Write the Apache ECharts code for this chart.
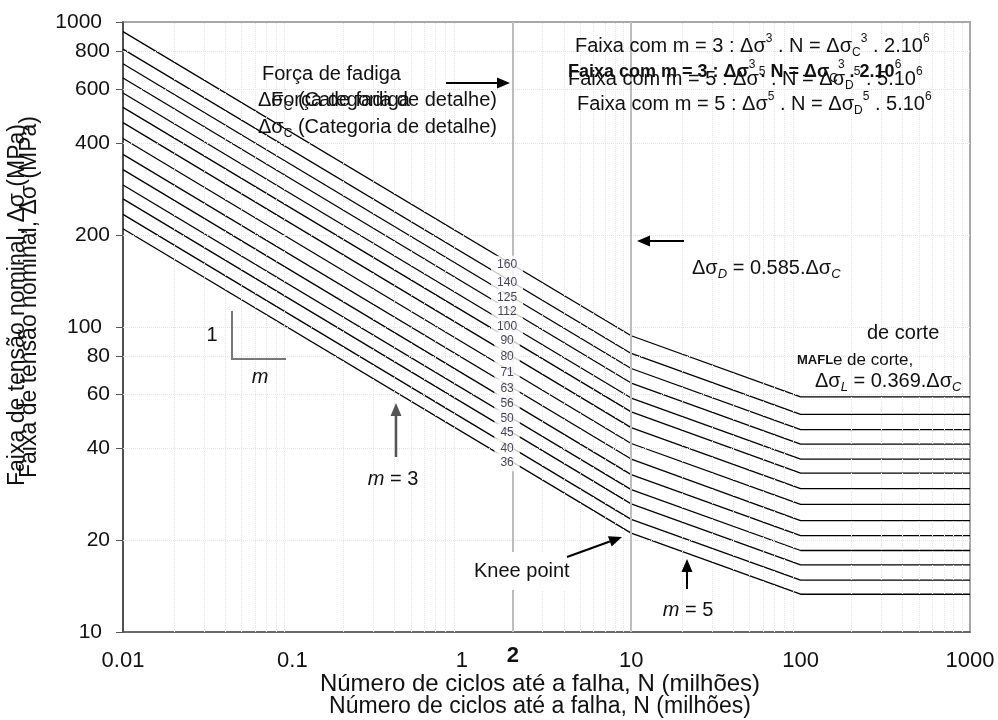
<!DOCTYPE html>
<html><head><meta charset="utf-8">
<script src="https://cdn.jsdelivr.net/npm/echarts@6/dist/echarts.min.js"></script>
<style>html,body{margin:0;padding:0;background:#fff}#c{width:998px;height:720px}</style>
</head><body><div id="c"></div>
<script>
// ---- data ----
const categories   = [160, 140, 125, 112, 100, 90, 80, 71, 63, 56, 50, 45, 40, 36];
const cycles       = [0.01, 10, 100, 1000];          // N (milhões) at the vertices of each curve
const startValues  = [930, 815, 730, 655, 585, 525, 468, 415, 368, 328, 292, 263, 234, 210]; // at N = 0.01
const kneeValues   = [93.6, 81.9, 73.1, 65.5, 58.5, 52.7, 46.8, 41.5, 36.9, 32.8, 29.3, 26.3, 23.4, 21.1]; // at N = 10
const cutoffValues = [59.0, 51.7, 46.1, 41.3, 36.9, 33.2, 29.5, 26.2, 23.2, 20.7, 18.5, 16.6, 14.8, 13.3]; // N = 100 .. 1000
const labelCycle   = 1.85;                            // N where category labels sit
const refLines     = [2, 10];
const xTicks = [0.01, 0.1, 1, 2, 10, 100, 1000];
const yTicks = [10, 20, 40, 60, 80, 100, 200, 400, 600, 800, 1000];
const minorX = [0.02,0.03,0.04,0.05,0.06,0.07,0.08,0.09, 0.2,0.3,0.4,0.5,0.6,0.7,0.8,0.9,
                3,4,5,6,7,8,9, 20,30,40,50,60,70,80,90, 200,300,400,500,600,700,800,900];

const FF = "'Liberation Sans', Arial, Helvetica, sans-serif";
const chart = echarts.init(document.getElementById('c'), null, {renderer: 'canvas'});

const curveSeries = categories.map((c, k) => {
  const vals = [startValues[k], kneeValues[k], cutoffValues[k], cutoffValues[k]];
  return {
    name: String(c), type: 'line', silent: true, z: 3,
    symbol: 'none', animation: false,
    lineStyle: {color: '#000', width: 1.3},
    data: cycles.map((n, i) => [n, vals[i]])
  };
});

const rich = {
  sup:  {fontSize: 12, lineHeight: 12, verticalAlign: 'top', fontFamily: FF, fill: '#111'},
  sub:  {fontSize: 12, lineHeight: 12, verticalAlign: 'bottom', fontFamily: FF, fill: '#111'},
  subi: {fontSize: 13, lineHeight: 12, verticalAlign: 'bottom', fontStyle: 'italic', fontFamily: FF, fill: '#111'},
  i:    {fontSize: 20, fontStyle: 'italic', fontFamily: FF, fill: '#111'}
};
function txt(x, y, text, opts) {
  opts = opts || {};
  return {
    type: 'text', x: x, y: y, z: opts.z || 100, rotation: opts.rotation || 0,
    style: Object.assign({
      text: text, fontSize: 20, fontFamily: FF, fill: '#111',
      align: 'left', verticalAlign: 'middle', lineHeight: 26, rich: rich
    }, opts.style || {})
  };
}
function arrow(x1, y1, x2, y2, color, w) {
  color = color || '#000'; w = w || 2;
  const ang = Math.atan2(y2 - y1, x2 - x1), L = 13, H = 5.5;
  const bx = x2 - L * Math.cos(ang), by = y2 - L * Math.sin(ang);
  const px = -Math.sin(ang) * H, py = Math.cos(ang) * H;
  return [
    {type: 'line', z: 100, shape: {x1: x1, y1: y1, x2: bx, y2: by}, style: {stroke: color, lineWidth: w}},
    {type: 'polygon', z: 100, shape: {points: [[x2, y2], [bx + px, by + py], [bx - px, by - py]]}, style: {fill: color}}
  ];
}

const graphics = [].concat(
  // y-axis title (two overlapping copies as in the reference)
  [txt(18, 305, 'Faixa de tensão nominal, Δσ (MPa)', {rotation: Math.PI / 2, style: {fontSize: 23, align: 'center'}}),
   txt(30, 297, 'Faixa de tensão nominal, Δσ (MPa)', {rotation: Math.PI / 2, style: {fontSize: 23, align: 'center'}})],
  // x-axis title (two copies)
  [txt(540, 684, 'Número de ciclos até a falha, N (milhões)', {style: {fontSize: 24, align: 'center'}}),
   txt(540, 707, 'Número de ciclos até a falha, N (milhões)', {style: {fontSize: 23, align: 'center'}})],
  // left annotation block
  [txt(262, 74, 'Força de fadiga'),
   txt(258, 100, 'Δσ{sub|C} (Categoria de detalhe)'),
   txt(271, 100, 'Força de fadiga'),
   txt(258, 127, 'Δσ{sub|C} (Categoria de detalhe)')],
  arrow(446, 83, 510, 83),
  // right annotation block
  [txt(575, 46, 'Faixa com m = 3 : Δσ{sup|3} . N = Δσ{sub|C}{sup|3} . 2.10{sup|6}'),
   txt(568, 72, 'Faixa com m = 3 : Δσ{sup|3} . N = Δσ{sub|C}{sup|3} . 2.10{sup|6}', {style: {fontSize: 18, fontWeight: 'bold'}}),
   txt(568, 79, 'Faixa com m = 5 : Δσ{sup|5} . N = Δσ{sub|D}{sup|5} . 5.10{sup|6}'),
   txt(577, 104, 'Faixa com m = 5 : Δσ{sup|5} . N = Δσ{sub|D}{sup|5} . 5.10{sup|6}')],
  arrow(684, 241, 637, 241),
  [txt(692, 268, 'Δσ{subi|D} = 0.585.Δσ{subi|C}'),
   txt(867, 333, 'de corte'),
   txt(797, 360, 'Limite de corte,', {style: {fontSize: 17, lineHeight: 18}}),
   txt(797, 360, 'MAFL', {z: 101, style: {fontSize: 13, fontWeight: 'bold', lineHeight: 14, backgroundColor: '#fff', padding: [1, 0, 1, 0]}}),
   txt(815, 381, 'Δσ{subi|L} = 0.369.Δσ{subi|C}')],
  // slope triangle
  [{type: 'polyline', z: 100, shape: {points: [[232, 311], [232, 359], [286, 359]]}, style: {stroke: '#777', lineWidth: 2, fill: null}},
   txt(212, 335, '1', {style: {align: 'center'}}),
   txt(260, 377, '{i|m}', {style: {align: 'center'}})],
  arrow(396, 457, 396, 403, '#555', 2.5),
  [txt(393, 479, '{i|m} = 3', {style: {align: 'center'}})],
  [txt(471, 571, 'Knee point', {style: {backgroundColor: '#fff', padding: [6, 3]}})],
  arrow(567, 557, 622, 537),
  arrow(687, 589, 687, 559),
  [txt(688, 610, '{i|m} = 5', {style: {align: 'center'}})]
);

const option = {
  animation: false,
  backgroundColor: '#fff',
  grid: {left: 123, right: 28, top: 22, bottom: 88, show: true, borderColor: '#a8a8a8', borderWidth: 2, backgroundColor: 'transparent'},
  xAxis: {
    type: 'log', logBase: 10, min: 0.01, max: 1000,
    axisLine: {lineStyle: {color: '#555', width: 1.5}},
    axisTick: {show: false},
    splitLine: {show: false}, minorSplitLine: {show: false},
    axisLabel: {
      customValues: xTicks, margin: 12, color: '#111', fontFamily: FF, fontSize: 22,
      formatter: v => (v === 2 ? '{b|2}' : '{a|' + v + '}'),
      rich: {
        a: {fontSize: 22, lineHeight: 34, fontFamily: FF, color: '#111'},
        b: {fontSize: 22, lineHeight: 24, fontWeight: 'bold', fontFamily: FF, color: '#111'}
      }
    }
  },
  yAxis: {
    type: 'log', logBase: 10, min: 10, max: 1000,
    axisLine: {show: true, lineStyle: {color: '#333', width: 1.5}},
    axisTick: {show: true, customValues: yTicks, length: 7, lineStyle: {color: '#555'}},
    splitLine: {show: false},
    axisLabel: {
      customValues: yTicks, margin: 13, color: '#111', fontFamily: FF, fontSize: 21,
      formatter: v => ([10, 100, 1000].indexOf(v) >= 0 ? '{p|' + v + '}' : '{q|' + v + '}'),
      rich: {
        p: {fontSize: 21, fontFamily: FF, color: '#111', padding: [0, 8, 0, 0]},
        q: {fontSize: 21, fontFamily: FF, color: '#111'}
      }
    }
  },
  series: [
    {
      type: 'line', data: [], silent: true, z: 1,
      markLine: {
        silent: true, symbol: ['none', 'none'], label: {show: false}, animation: false,
        lineStyle: {color: '#e4e4e4', type: 'dotted', width: 1},
        data: minorX.map(v => ({xAxis: v})).concat(yTicks.slice(1, -1).map(v => ({yAxis: v})))
      }
    },
    {
      type: 'line', data: [], silent: true, z: 2,
      markLine: {
        silent: true, symbol: ['none', 'none'], label: {show: false}, animation: false,
        lineStyle: {color: '#bdbdbd', type: 'solid', width: 2},
        data: refLines.map(v => ({xAxis: v}))
      }
    }
  ].concat(curveSeries).concat([
    {
      type: 'scatter', silent: true, z: 10, symbolSize: 1,
      itemStyle: {color: '#fff'},
      data: categories.map(c => [labelCycle, c]),
      label: {
        show: true, position: 'inside', formatter: p => String(p.value[1]),
        fontSize: 12, fontFamily: FF, color: '#14142a',
        backgroundColor: '#fff', padding: [3, 6], lineHeight: 12
      }
    }
  ]),
  graphic: {elements: graphics}
};
chart.setOption(option);
</script>
</body></html>
